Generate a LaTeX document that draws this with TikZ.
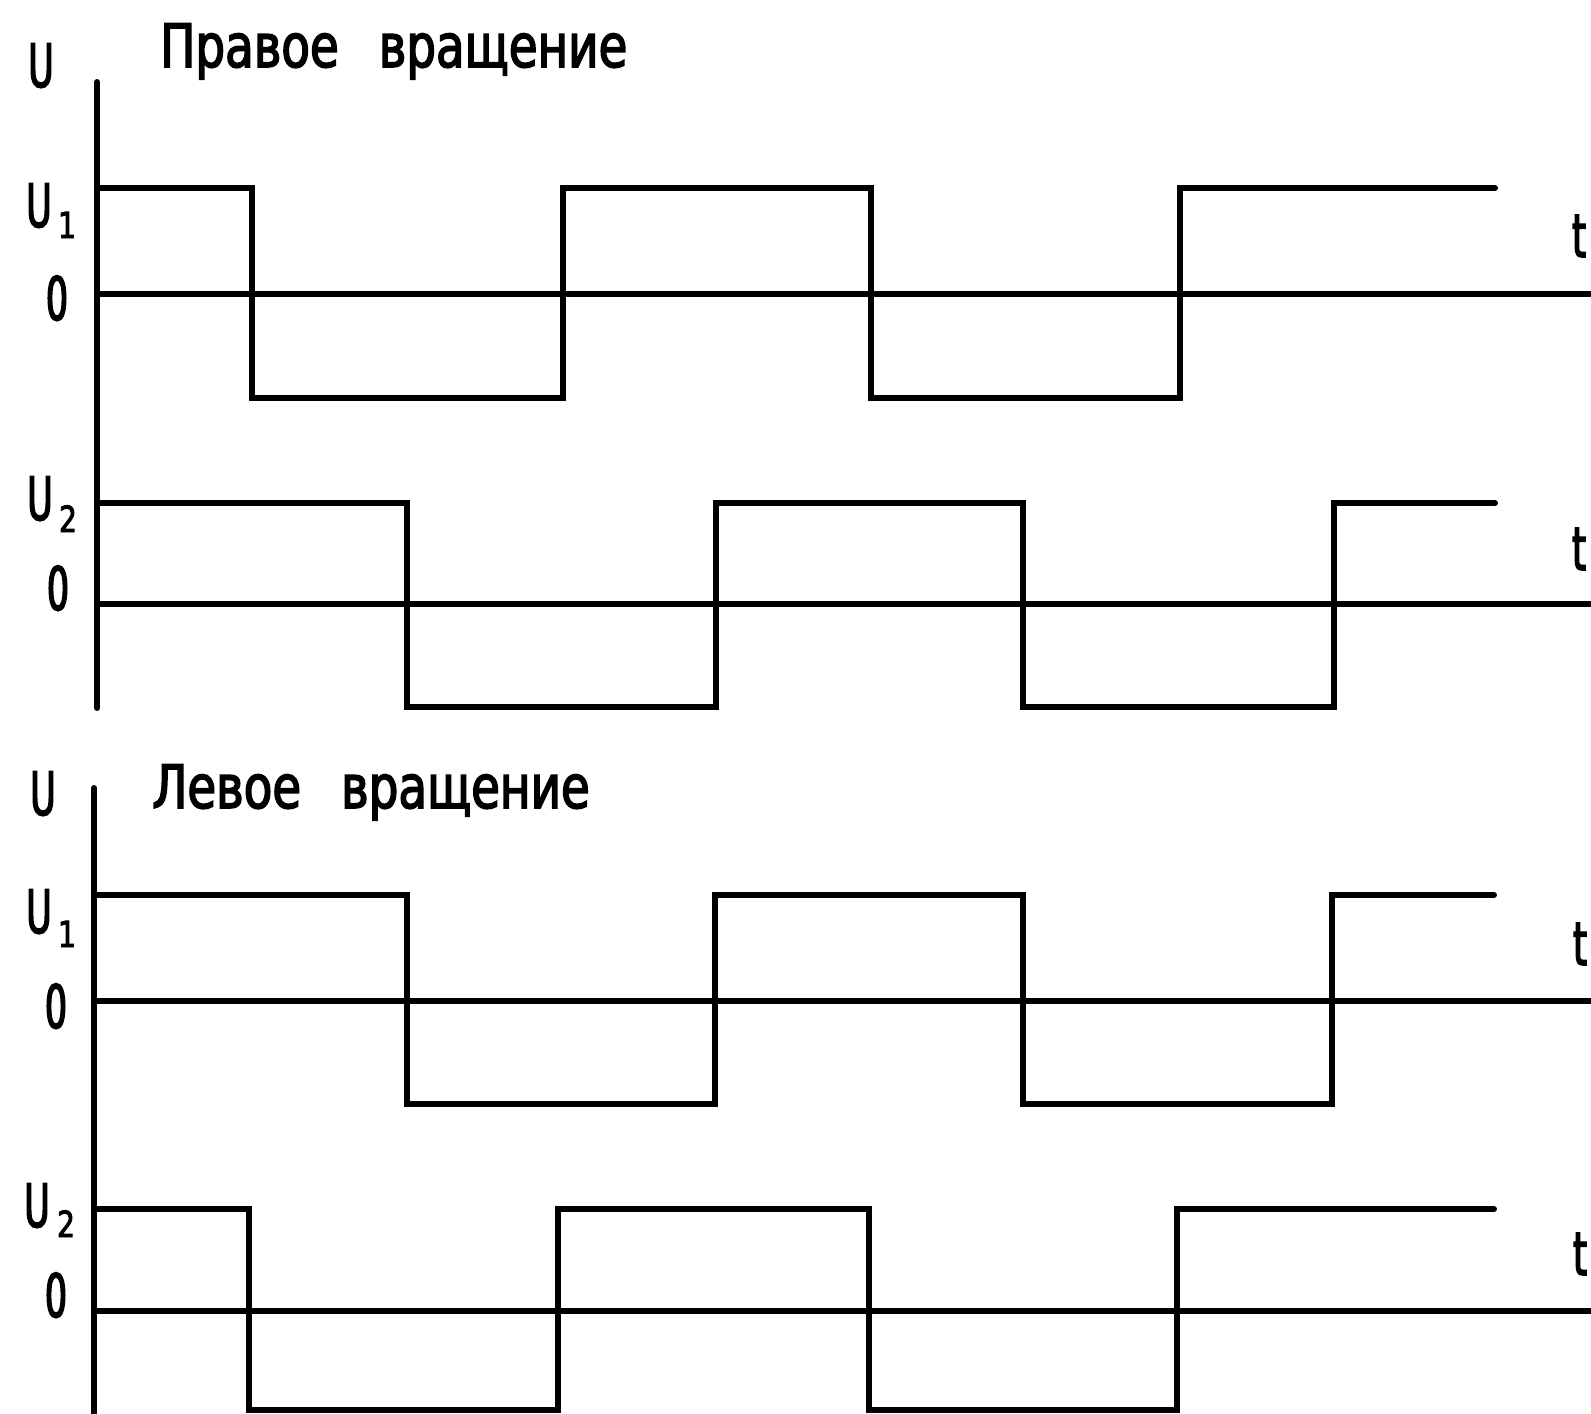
\documentclass[tikz,border=0pt]{standalone}
\usepackage{fontspec}
\newfontfamily\titlefont[FakeStretch=0.78,FakeBold=2.5]{DejaVu Sans}
\newfontfamily\labfont[FakeStretch=0.58,FakeBold=2.5]{DejaVu Sans}
\begin{document}
\begin{tikzpicture}[x=1pt,y=-1pt,
  wave/.style={line width=6pt,line cap=round,line join=miter},
  axisline/.style={line width=6pt,line cap=round},
  ttl/.style={inner sep=0pt,anchor=base west,font=\titlefont\fontsize{60}{72}\selectfont},
  lab/.style={inner sep=0pt,anchor=base,font=\labfont\fontsize{60}{72}\selectfont},
  sub/.style={inner sep=0pt,anchor=base,font=\titlefont\fontsize{36}{40}\selectfont}]
\fill[white] (0,0) rectangle (1591,1414);
\useasboundingbox (0,0) rectangle (1591,1414);

% ---------- Panel A: right rotation ----------
\node[lab] (uA) at (41,87) {U};
\node[ttl] (titleA) at (160,67) {Правое\hspace{40pt}вращение};
\draw[axisline] (97,82) -- (97,708);
% signal 1
\node[lab] (u1A) at (39,227) {U};
\node[sub] (s1A) at (67,238) {1};
\node[lab] (z1A) at (57,320) {0};
\draw[wave] (97,294) -- (1591,294);
\draw[wave] (97,188) -- (252,188) -- (252,398) -- (563,398) -- (563,188) -- (871,188)
  -- (871,398) -- (1180,398) -- (1180,188) -- (1495,188);
\node[lab] (t1A) at (1579,257) {t};
% signal 2
\node[lab] (u2A) at (40,520) {U};
\node[sub] (s2A) at (68,532) {2};
\node[lab] (z2A) at (58,610) {0};
\draw[wave] (97,604) -- (1591,604);
\draw[wave] (97,503) -- (407,503) -- (407,707) -- (716,707) -- (716,503) -- (1023,503)
  -- (1023,707) -- (1334,707) -- (1334,503) -- (1495,503);
\node[lab] (t2A) at (1579,570) {t};

% ---------- Panel B: left rotation ----------
\node[lab] (uB) at (43,815) {U};
\node[ttl] (titleB) at (152,808) {Левое\hspace{40pt}вращение};
\draw[axisline] (94,788) -- (94,1420);
% signal 3
\node[lab] (u1B) at (39,933) {U};
\node[sub] (s1B) at (67,947) {1};
\node[lab] (z1B) at (56,1028) {0};
\draw[wave] (94,1001) -- (1591,1001);
\draw[wave] (94,895) -- (407,895) -- (407,1104) -- (715,1104) -- (715,895) -- (1023,895)
  -- (1023,1104) -- (1332,1104) -- (1332,895) -- (1494,895);
\node[lab] (t1B) at (1580,965) {t};
% signal 4
\node[lab] (u2B) at (37,1227) {U};
\node[sub] (s2B) at (66,1237) {2};
\node[lab] (z2B) at (56,1317) {0};
\draw[wave] (94,1311) -- (1591,1311);
\draw[wave] (94,1209) -- (249,1209) -- (249,1410) -- (558,1410) -- (558,1209) -- (869,1209)
  -- (869,1410) -- (1177,1410) -- (1177,1209) -- (1494,1209);
\node[lab] (t2B) at (1580,1275) {t};
\end{tikzpicture}
\end{document}
